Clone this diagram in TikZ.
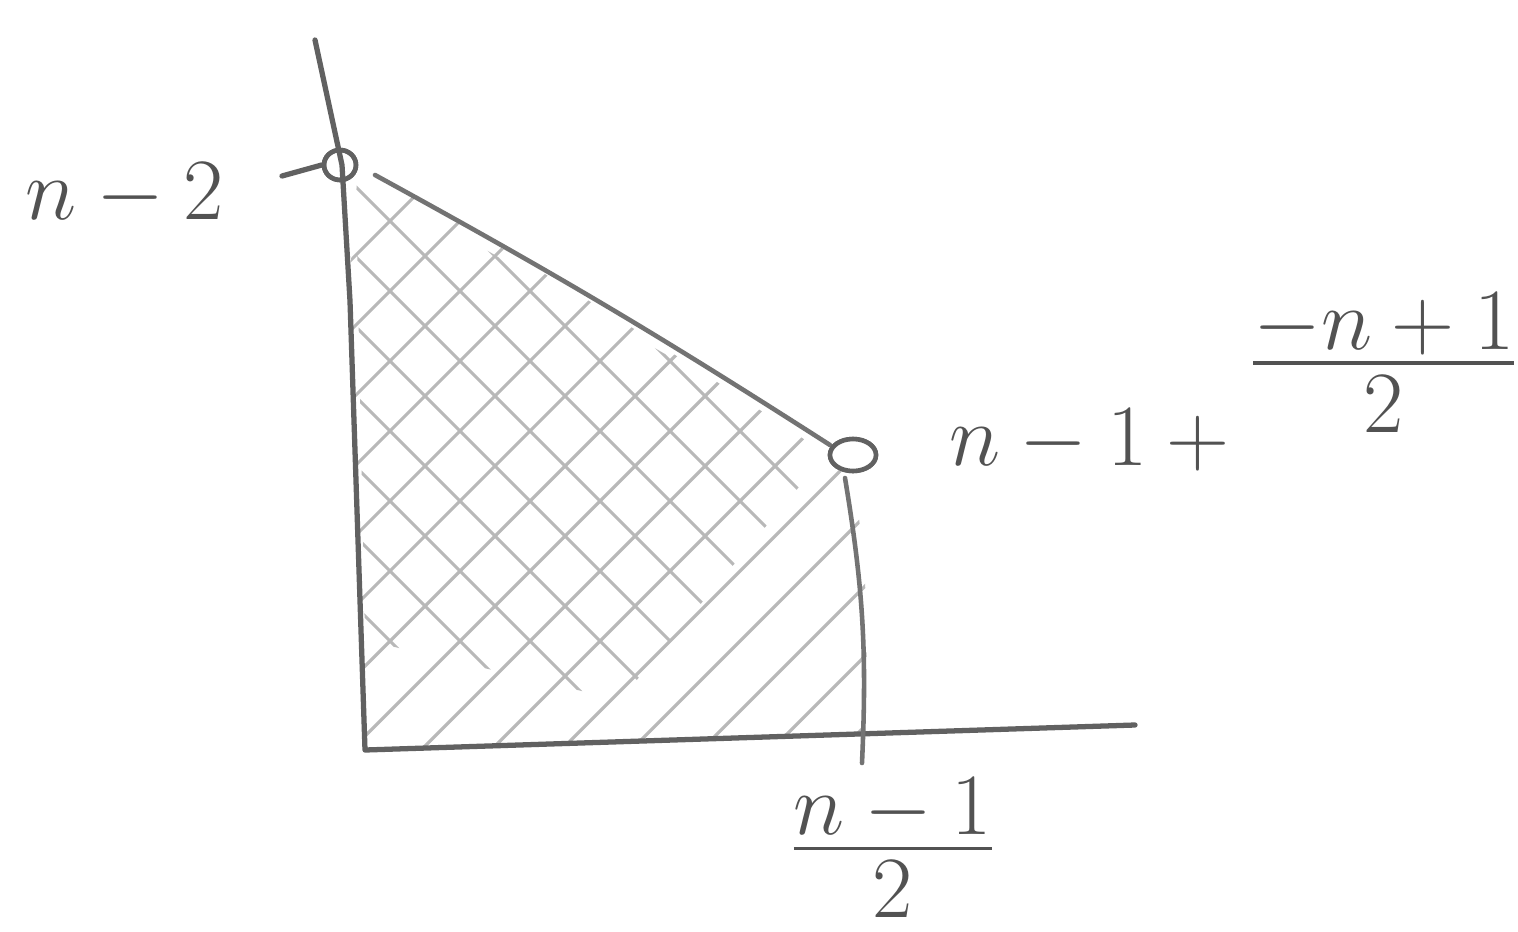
\documentclass[tikz,border=0pt]{standalone}
\usepackage{amsmath}
\usetikzlibrary{positioning, calc, shapes.geometric}
\tikzset{
    axis_line/.style={draw=black!62, line width=1.5pt, line cap=round, line join=round},
    edge_line/.style={draw=black!55, line width=1.3pt, line cap=round},
    hatch_line/.style={draw=black!28, line width=0.9pt, line cap=round},
    open_dot/.style={ellipse, draw=black!62, line width=1.3pt, minimum width=0.36cm, minimum height=0.3cm, inner sep=0pt},
    lbl/.style={text=black!68, font=\fontsize{24}{28}\selectfont, inner sep=1pt}
}
\newcommand{\handfrac}[2]{\frac{\textstyle #1\rule[-0.1em]{0pt}{0pt}}{\textstyle #2\rule{0pt}{0.76em}}}
\begin{document}
\begin{tikzpicture}
    \useasboundingbox (0,0) rectangle (15.18,9.31);
    \fill[white] (0,0) rectangle (15.18,9.31);

    \coordinate (ytop) at (3.15,8.91);
    \coordinate (origin) at (3.65,1.81);
    \coordinate (xend) at (11.35,2.06);
    \coordinate (xfoot) at (8.62,1.68);
    \coordinate (tick) at (2.82,7.55);
    \node[open_dot, minimum width=0.32cm] (p1) at (3.40,7.66) {};
    \node[open_dot, fill=white, minimum width=0.46cm, minimum height=0.32cm] (p2) at (8.53,4.76) {};

    % hatching
    \begin{scope}
        \clip (p1.east) to[bend left=2] (p2.west) -- (p2.south) to[bend left=6] (8.63,1.97) -- (origin) -- (3.48,6.3) -- cycle;
        \foreach \x in {-3.2,-2.5,...,7.3}
            \draw[hatch_line] (\x,0) -- ++(8,8);
        \clip (p1) -- (8.3,4.81) -- (6.2,2.31) -- (3.65,2.91) -- cycle;
        \foreach \x in {2.6,3.3,...,12.6}
            \draw[hatch_line] (\x,0) -- ++(-8,8);
    \end{scope}

    % axes
    \draw[axis_line] (ytop) -- (3.42,7.66) -- (3.50,6.3) -- (origin) -- (xend);
    \draw[axis_line] (tick) -- (p1.west);

    % boundary of the region
    \draw[edge_line] (3.75,7.56) to[bend left=2] (8.30,4.86);
    \draw[edge_line] (8.45,4.53) to[bend left=6] (xfoot);

    \node[open_dot, minimum width=0.32cm] at (p1) {};
    \node[open_dot, fill=white, minimum width=0.46cm, minimum height=0.32cm] at (p2) {};

    \node[lbl] (lbl_top) at (1.25,7.36) {$n-2$};
    \node[lbl, anchor=base west] (lbl_right) at (9.45,4.66) {$n-1+\raisebox{0.8cm}{$\handfrac{-n+1}{2}$}$};
    \node[lbl] (lbl_bottom) at (8.93,0.83) {$\handfrac{n-1}{2}$};
\end{tikzpicture}
\end{document}
